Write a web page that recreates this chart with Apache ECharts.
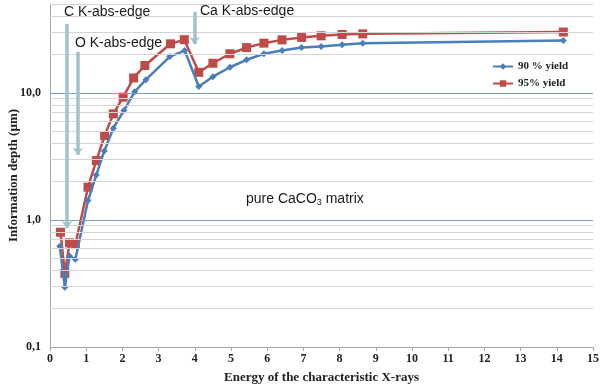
<!DOCTYPE html>
<html>
<head>
<meta charset="utf-8">
<script src="https://cdn.jsdelivr.net/npm/echarts@6/dist/echarts.min.js"></script>
<style>
html,body{margin:0;padding:0;background:#fff;}
#chart{width:600px;height:385px;}
</style>
</head>
<body>
<div id="chart"></div>
<script>
// Data
var energy90 = [0.27, 0.41, 0.54, 0.70, 1.05, 1.28, 1.50, 1.75, 2.04, 2.34, 2.65, 3.31, 3.72, 4.11, 4.50, 4.97, 5.43, 5.91, 6.41, 6.95, 7.49, 8.07, 8.64, 14.18];
var depth90  = [0.62, 0.295, 0.52, 0.49, 1.42, 2.26, 3.49, 5.27, 7.26, 10.2, 12.7, 19.3, 21.5, 11.2, 13.4, 15.9, 18.2, 20.3, 21.5, 22.7, 23.2, 23.9, 24.6, 25.8];
var energy95 = [0.29, 0.41, 0.54, 0.70, 1.05, 1.28, 1.51, 1.75, 2.02, 2.31, 2.62, 3.33, 3.71, 4.11, 4.50, 4.97, 5.43, 5.91, 6.41, 6.95, 7.49, 8.07, 8.64, 14.18];
var depth95  = [0.80, 0.38, 0.66, 0.64, 1.81, 2.93, 4.61, 6.83, 9.25, 13.1, 16.4, 24.3, 26.2, 14.5, 17.1, 20.3, 22.7, 24.6, 26.1, 27.3, 28.1, 28.8, 29.1, 30.1];
var seriesNames = ['90 % yield', '95% yield'];
var majorGrid = [1, 10];
var minorGrid = [0.2,0.3,0.4,0.5,0.6,0.7,0.8,0.9,2,3,4,5,6,7,8,9,20,30,40,50];
var xTicks = [0,1,2,3,4,5,6,7,8,9,10,11,12,13,14,15];

function pairs(xs, ys){ return xs.map(function(x,i){ return [x, ys[i]]; }); }

var serif = 'Liberation Serif';
var sans = 'Liberation Sans';
var arrowColor = '#9fc3cc';

var gridLines = [];
minorGrid.forEach(function(v){ gridLines.push({yAxis: v, lineStyle:{color:'#d4d4d4', width:1, type:'solid'}}); });
majorGrid.forEach(function(v){ gridLines.push({yAxis: v, lineStyle:{color:'#7f9fd0', width:1.2, type:'solid'}}); });

var arrows = [
  [{coord:[0.47, 34.9]}, {coord:[0.47, 0.86]}],
  [{coord:[0.77, 21.0]}, {coord:[0.77, 3.25]}],
  [{coord:[3.99, 43.4]}, {coord:[3.99, 24.2]}]
];

var chart = echarts.init(document.getElementById('chart'), null, {renderer:'canvas'});
chart.setOption({
  animation: false,
  backgroundColor: '#fff',
  grid: {left: 50, right: 7, top: 4, bottom: 38, containLabel: false, outerBoundsMode: 'none'},
  legend: {
    data: seriesNames,
    orient: 'vertical',
    left: 487, top: 56,
    itemWidth: 20, itemHeight: 8, itemGap: 6,
    textStyle: {fontFamily: serif, fontWeight: 'bold', fontSize: 11, color: '#222'}
  },
  xAxis: {
    type: 'value', min: xTicks[0], max: xTicks[xTicks.length-1], interval: 1,
    name: 'Energy of the characteristic X-rays', nameLocation: 'middle', nameGap: 24, nameMoveOverlap: false,
    nameTextStyle: {fontFamily: serif, fontWeight: 'bold', fontSize: 13, color: '#222'},
    axisLine: {show: true, onZero: false, lineStyle: {color: '#a6a6a6', width: 1}},
    axisTick: {show: true, inside: false, length: 4, lineStyle: {color: '#a6a6a6'}},
    axisLabel: {fontFamily: serif, fontWeight: 'bold', fontSize: 12, color: '#222', margin: 6},
    splitLine: {show: false}
  },
  yAxis: {
    type: 'log', logBase: 10, min: 0.1, max: 50,
    name: 'Information depth (µm)', nameLocation: 'middle', nameGap: 30, nameRotate: 90, nameMoveOverlap: false,
    nameTextStyle: {fontFamily: serif, fontWeight: 'bold', fontSize: 13, color: '#222'},
    axisLine: {show: true, lineStyle: {color: '#a6a6a6', width: 1}},
    axisTick: {show: false},
    axisLabel: {fontFamily: serif, fontWeight: 'bold', fontSize: 12, color: '#222', margin: 9,
      showMaxLabel: false,
      formatter: function(v){ return (Math.round(v*10)/10).toFixed(1).replace('.', ','); }},
    splitLine: {show: false}
  },
  graphic: [
    {type:'text', left: 64, top: 5, style:{text:'C K-abs-edge', font:'14px "Liberation Sans"', fill:'#1a1a1a'}},
    {type:'text', left: 75, top: 36, style:{text:'O K-abs-edge', font:'14px "Liberation Sans"', fill:'#1a1a1a'}},
    {type:'text', left: 200, top: 4, style:{text:'Ca K-abs-edge', font:'14px "Liberation Sans"', fill:'#1a1a1a'}},
    {type:'text', left: 246, top: 192, style:{
      text:'{n|pure CaCO}{s|3}{n| matrix}',
      rich:{n:{fontFamily: sans, fontSize: 14, fill:'#1a1a1a', color:'#1a1a1a'},
            s:{fontFamily: sans, fontSize: 9, fill:'#1a1a1a', color:'#1a1a1a', padding:[8,0,0,0]}}
    }}
  ],
  series: [
    {
      name: 'grid', type: 'line', data: [], z: 1, silent: true,
      markLine: {silent: true, symbol: ['none','none'], label: {show: false}, animation: false, data: gridLines}
    },
    {
      name: seriesNames[0], type: 'line', data: pairs(energy90, depth90), z: 4,
      color: '#4a7ebb', symbol: 'diamond', symbolSize: 7, showSymbol: true,
      lineStyle: {width: 2.5, color: '#4a7ebb'}, itemStyle: {color: '#4a7ebb'}
    },
    {
      name: seriesNames[1], type: 'line', data: pairs(energy95, depth95), z: 3,
      color: '#be4b48', symbol: 'rect', symbolSize: 9, showSymbol: true,
      lineStyle: {width: 2.5, color: '#be4b48'}, itemStyle: {color: '#be4b48'}
    },
    {
      name: 'arrows', type: 'line', data: [], z: 5, silent: true,
      markLine: {silent: true, symbol: ['none','arrow'], symbolSize: [8, 7], label: {show: false}, animation: false,
        lineStyle: {color: arrowColor, width: 3.5, type: 'solid'},
        data: arrows}
    }
  ]
});
</script>
</body>
</html>
